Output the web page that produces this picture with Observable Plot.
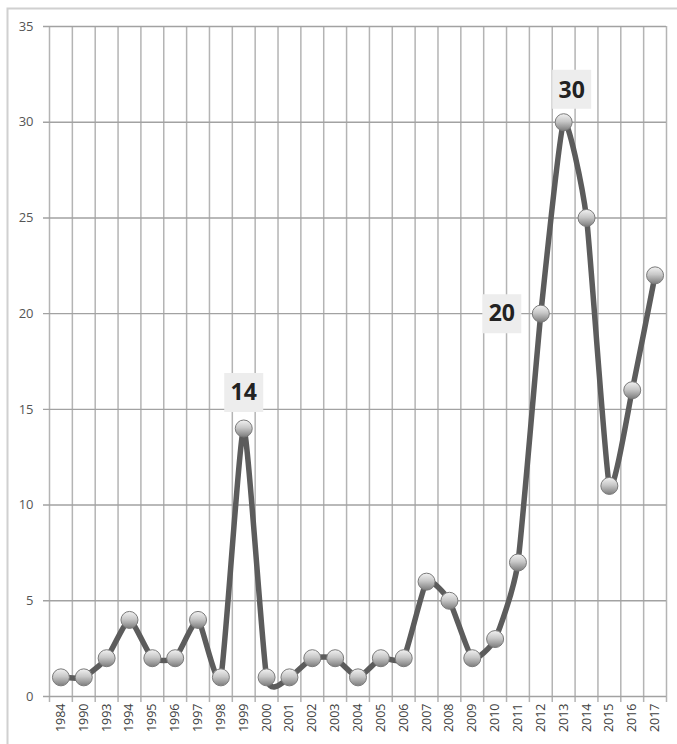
<!DOCTYPE html>
<html>
<head>
<meta charset="utf-8">
<script src="https://cdn.jsdelivr.net/npm/d3@7"></script>
<script src="https://cdn.jsdelivr.net/npm/@observablehq/plot@0.6"></script>
<style>
  html, body { margin: 0; padding: 0; background: #fff; }
</style>
</head>
<body>
<div id="chart"></div>
<script>
const years = ["1984","1990","1993","1994","1995","1996","1997","1998","1999","2000","2001","2002","2003","2004","2005","2006","2007","2008","2009","2010","2011","2012","2013","2014","2015","2016","2017"];
const values = [1,1,2,4,2,2,4,1,14,1,1,2,2,1,2,2,6,5,2,3,7,20,30,25,11,16,22];
const yTicks = [0,5,10,15,20,25,30,35];
const labelYears = ["1999","2013","2012"];

const data = years.map((year, i) => ({i, year, value: values[i]}));
const boundaries = d3.range(years.length + 1).map(k => k - 0.5);
const pick = y => data.filter(d => d.year === y);

const boxStyle = {x: "i", y: "value", symbol: "square", r: 22, fill: "#ededed", stroke: "none"};
const txtStyle = {x: "i", y: "value", text: d => String(d.value), fontSize: 23, fontWeight: "bold", fill: "#222", textAnchor: "middle"};

const chart = Plot.plot({
  width: 677,
  height: 744,
  marginLeft: 49,
  marginRight: 11,
  marginTop: 26,
  marginBottom: 48,
  style: {fontFamily: "'Open Sans', sans-serif", background: "white", overflow: "visible"},
  x: {type: "linear", domain: [-0.5, years.length - 0.5], label: null},
  y: {domain: [0, 35], label: null},
  marks: [
    Plot.ruleX(boundaries, {stroke: "#b4b4b4", strokeWidth: 1.5, insetBottom: -6}),
    Plot.ruleY(yTicks, {stroke: "#a2a2a2", strokeWidth: 1.4, insetLeft: -6}),
    Plot.line(data, {x: "i", y: "value", curve: "cardinal", tension: 0.5, stroke: "#5c5c5c", strokeWidth: 5.5}),
    Plot.dot(data, {x: "i", y: "value", r: 8.5, fill: "url(#ball)", stroke: "#7a7a7a", strokeWidth: 1}),
    Plot.dot(pick(labelYears[0]), {...boxStyle, dy: -36}),
    Plot.text(pick(labelYears[0]), {...txtStyle, dy: -36}),
    Plot.dot(pick(labelYears[1]), {...boxStyle, dx: 8, dy: -33}),
    Plot.text(pick(labelYears[1]), {...txtStyle, dx: 8, dy: -32}),
    Plot.dot(pick(labelYears[2]), {...boxStyle, dx: -39, dy: 0}),
    Plot.text(pick(labelYears[2]), {...txtStyle, dx: -39, dy: 0}),
    Plot.axisY(yTicks, {tickSize: 0, tickPadding: 16, fontSize: 13, fill: "#555", label: null}),
    Plot.axisX(d3.range(years.length), {tickFormat: i => years[i], tickRotate: -90, tickSize: 0, tickPadding: 7, fontSize: 12.5, fill: "#404040", label: null})
  ]
});

const svg = d3.select(chart);
const defs = svg.insert("defs", ":first-child");
const g = defs.append("linearGradient").attr("id", "ball").attr("x1", 0).attr("y1", 0).attr("x2", 0).attr("y2", 1);
g.append("stop").attr("offset", "0%").attr("stop-color", "#f2f2f2");
g.append("stop").attr("offset", "45%").attr("stop-color", "#c8c8c8");
g.append("stop").attr("offset", "100%").attr("stop-color", "#7c7c7c");
svg.insert("rect", "defs + *")
  .attr("x", 7.5).attr("y", 8.5).attr("width", 720).attr("height", 800)
  .attr("fill", "none").attr("stroke", "#d0d0d0").attr("stroke-width", 2);

document.getElementById("chart").appendChild(chart);
</script>
</body>
</html>
